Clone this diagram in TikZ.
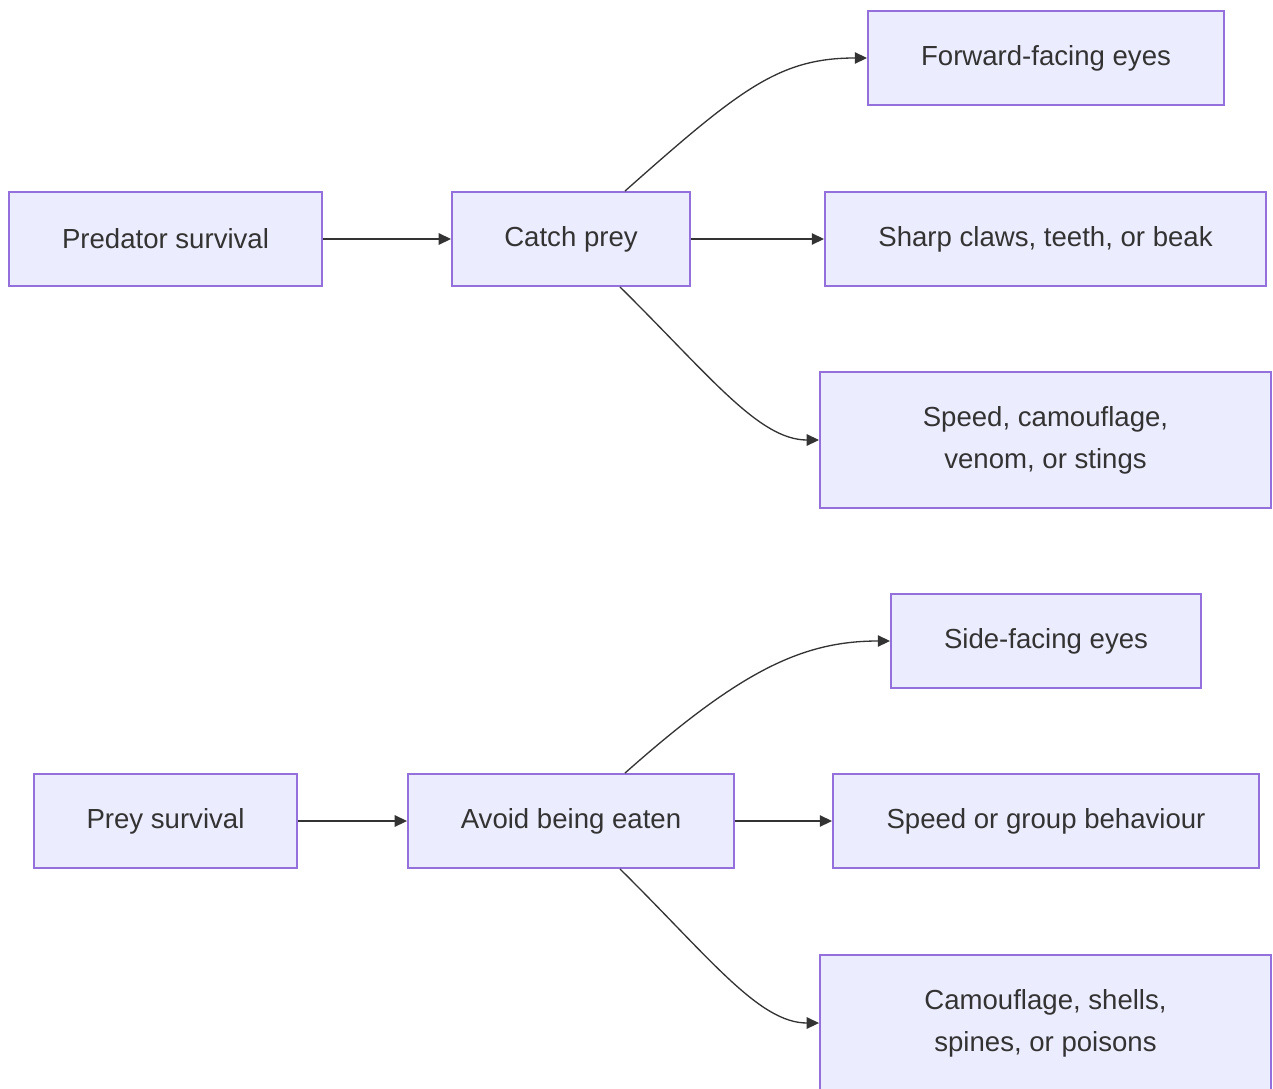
\documentclass[tikz,border=0pt]{standalone}
\usepackage{fontspec}
\setmainfont{Liberation Sans}
\usetikzlibrary{calc,arrows.meta}
\definecolor{boxfill}{HTML}{ECECFF}
\definecolor{boxline}{HTML}{9370DB}
\definecolor{ink}{HTML}{333333}
\tikzset{
	box/.style={draw=boxline, fill=boxfill, line width=1.1pt, inner sep=0pt, align=center,
		text=ink, font=\fontsize{15.7}{23.9}\selectfont},
	link/.style={draw=ink, line width=0.75pt, -{Triangle[length=7pt,width=6.5pt]}}
}

\begin{document}
\begin{tikzpicture}[x=0.02cm, y=-0.02cm]
	\useasboundingbox (0,0) rectangle (1273,1088);
	\node[box, minimum width=313*0.02cm, minimum height=94*0.02cm] (pred) at (165.5,239) {Predator survival};
	\node[box, minimum width=238*0.02cm, minimum height=94*0.02cm] (catch) at (571,239) {Catch prey};
	\node[box, minimum width=356*0.02cm, minimum height=94*0.02cm] (fwd) at (1046,58) {Forward-facing eyes};
	\node[box, minimum width=441*0.02cm, minimum height=94*0.02cm] (claws) at (1045.5,239) {Sharp claws, teeth, or beak};
	\node[box, minimum width=451*0.02cm, minimum height=136*0.02cm] (speed) at (1045.5,440) {Speed, camouflage,\\ venom, or stings};

	\node[box, minimum width=263*0.02cm, minimum height=94*0.02cm] (prey) at (165.5,821) {Prey survival};
	\node[box, minimum width=326*0.02cm, minimum height=94*0.02cm] (avoid) at (571,821) {Avoid being eaten};
	\node[box, minimum width=310*0.02cm, minimum height=94*0.02cm] (side) at (1046,641) {Side-facing eyes};
	\node[box, minimum width=426*0.02cm, minimum height=94*0.02cm] (group) at (1046,821) {Speed or group behaviour};
	\node[box, minimum width=451*0.02cm, minimum height=136*0.02cm] (shells) at (1045.5,1023) {Camouflage, shells,\\ spines, or poisons};

	\draw[link] (pred) -- (catch);
	\draw[link] (catch) -- (claws);
	\draw[link] ($(catch.north)+(54,0)$) .. controls +(115,-102) and +(-88,0) .. (fwd.west);
	\draw[link] ($(catch.south)+(49,0)$) .. controls +(90,89) and +(-60,0) .. (speed.west);

	\draw[link] (prey) -- (avoid);
	\draw[link] (avoid) -- (group);
	\draw[link] ($(avoid.north)+(54,0)$) .. controls +(115,-102) and +(-88,0) .. (side.west);
	\draw[link] ($(avoid.south)+(49,0)$) .. controls +(90,89) and +(-60,0) .. (shells.west);
\end{tikzpicture}
\end{document}
